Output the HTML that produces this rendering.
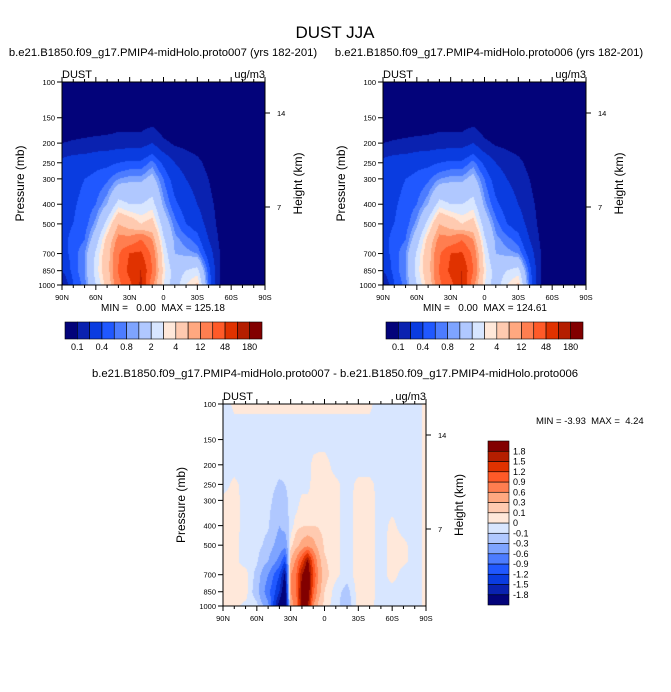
<!DOCTYPE html>
<html><head><meta charset="utf-8"><style>
body{margin:0;background:#fff;width:671px;height:692px;overflow:hidden;position:relative;font-family:"Liberation Sans",sans-serif}
canvas{position:absolute}
svg{position:absolute;left:0;top:0}
text{white-space:pre}
</style></head><body>
<canvas id="c1" width="203" height="203" style="left:62px;top:82px"></canvas>
<canvas id="c2" width="203" height="203" style="left:383px;top:82px"></canvas>
<canvas id="c3" width="203" height="202" style="left:223px;top:404px"></canvas>
<svg id="svg" width="671" height="692"></svg>
<script>
const pLevels=[100,150,200,250,300,400,500,600,700,850,1000];
const latsTop=[90,80,70,60,50,40,30,20,10,0,-10,-20,-30,-40,-50,-60,-70,-80,-90];
const dust007=[
[0.03,0.05,0.1,0.25,0.3,0.3,0.35,0.35,0.3,0.2,0.08],
[0.03,0.05,0.11,0.3,0.35,0.38,0.4,0.45,0.5,0.5,0.4],
[0.03,0.05,0.12,0.3,0.4,0.45,0.5,0.6,0.8,0.8,0.7],
[0.03,0.05,0.13,0.35,0.45,0.6,0.9,1.5,2.2,2.5,2],
[0.03,0.05,0.14,0.35,0.55,1,2.5,5,6,6,5],
[0.03,0.06,0.15,0.4,0.8,2.5,8,15,22,25,20],
[0.03,0.06,0.15,0.45,0.9,2,6,15,50,60,40],
[0.03,0.06,0.15,0.45,0.9,2,4,25,55,100,110],
[0.03,0.07,0.2,0.7,1.2,2.5,5,12,20,24,15],
[0.03,0.05,0.12,0.35,0.6,0.9,1.5,2.2,3,3.5,3],
[0.03,0.04,0.09,0.2,0.3,0.45,0.7,0.9,1,1.5,1.5],
[0.03,0.04,0.08,0.15,0.2,0.3,0.4,0.7,0.9,2,3],
[0.03,0.04,0.07,0.12,0.15,0.2,0.3,0.5,0.8,2.5,4.5],
[0.03,0.04,0.06,0.08,0.1,0.12,0.15,0.2,0.3,0.5,0.6],
[0.03,0.04,0.05,0.06,0.07,0.08,0.08,0.09,0.1,0.1,0.1],
[0.05,0.05,0.05,0.05,0.05,0.05,0.05,0.05,0.05,0.05,0.05],
[0.05,0.05,0.05,0.05,0.05,0.05,0.05,0.05,0.05,0.05,0.05],
[0.05,0.05,0.05,0.05,0.05,0.05,0.05,0.05,0.05,0.05,0.05],
[0.05,0.05,0.05,0.05,0.05,0.05,0.05,0.05,0.05,0.05,0.05]];
const dust006=[
[0.03,0.05,0.1,0.25,0.3,0.3,0.35,0.35,0.3,0.2,0.08],
[0.03,0.05,0.11,0.3,0.35,0.38,0.4,0.45,0.5,0.5,0.4],
[0.03,0.05,0.12,0.3,0.4,0.45,0.5,0.6,0.8,0.8,0.7],
[0.03,0.05,0.13,0.35,0.45,0.6,0.9,1.5,2.2,2.5,2],
[0.03,0.05,0.14,0.35,0.55,1,2.5,5,6,6,5],
[0.03,0.06,0.15,0.4,0.8,2.5,8,15,22,25,21],
[0.03,0.06,0.15,0.45,0.9,2,6,15,48,58,38],
[0.03,0.06,0.15,0.45,0.9,2,4,24,53,98,105],
[0.03,0.07,0.2,0.7,1.2,2.5,5,12,20,24,15],
[0.03,0.05,0.12,0.35,0.6,0.9,1.5,2.2,3,3.5,3],
[0.03,0.04,0.09,0.2,0.3,0.45,0.7,0.9,1,1.5,1.5],
[0.03,0.04,0.08,0.15,0.2,0.3,0.4,0.7,0.9,2,3],
[0.03,0.04,0.07,0.12,0.15,0.2,0.3,0.5,0.8,2.5,4.5],
[0.03,0.04,0.06,0.08,0.1,0.12,0.15,0.2,0.3,0.5,0.6],
[0.03,0.04,0.05,0.06,0.07,0.08,0.08,0.09,0.1,0.1,0.1],
[0.05,0.05,0.05,0.05,0.05,0.05,0.05,0.05,0.05,0.05,0.05],
[0.05,0.05,0.05,0.05,0.05,0.05,0.05,0.05,0.05,0.05,0.05],
[0.05,0.05,0.05,0.05,0.05,0.05,0.05,0.05,0.05,0.05,0.05],
[0.05,0.05,0.05,0.05,0.05,0.05,0.05,0.05,0.05,0.05,0.05]];
const latsDiff=[90,80,70,60,50,45,40,35,30,25,20,15,10,5,0,-10,-20,-30,-40,-50,-60,-70,-80,-90];
const dustDiff=[
[-0.05,-0.05,-0.05,-0.05,0.03,0.03,0.03,0.03,0.03,0.03,0.03],
[0.02,-0.05,-0.05,0.03,0.05,0.05,0.03,0.03,0.05,0.05,0.03],
[0.02,-0.05,-0.05,-0.05,-0.05,-0.05,-0.05,-0.05,0.05,0.05,-0.03],
[0.02,-0.05,-0.05,-0.05,-0.05,-0.05,-0.05,-0.08,-0.15,-0.2,-0.05],
[0.02,-0.05,-0.05,-0.05,-0.05,-0.08,-0.15,-0.3,-0.6,-0.8,-0.5],
[0.02,-0.05,-0.05,-0.08,-0.12,-0.2,-0.3,-0.5,-0.9,-1.1,-1.3],
[0.02,-0.05,-0.05,-0.12,-0.2,-0.3,-0.4,-0.7,-1.2,-1.5,-2.0],
[0.02,-0.05,-0.05,-0.1,-0.15,-0.2,-0.5,-1.2,-1.9,-2.2,-2.5],
[0.02,-0.05,-0.05,-0.05,-0.05,-0.05,0.05,0.3,0.6,0.6,0.4],
[0.02,-0.05,-0.05,-0.05,-0.05,0.05,0.2,0.7,0.9,0.9,0.8],
[0.02,-0.05,-0.05,-0.05,0.03,0.08,0.4,1.2,1.8,2.0,2.0],
[0.02,-0.05,-0.05,-0.05,0.03,0.1,0.5,1.9,2.2,2.2,1.9],
[0.02,-0.05,0.03,0.05,0.05,0.1,0.4,1.0,1.2,1.0,0.6],
[0.02,-0.05,0.05,0.05,0.05,0.08,0.2,0.4,0.5,0.4,0.2],
[0.02,-0.05,0.05,0.05,0.05,0.05,0.08,0.12,0.15,0.1,0.05],
[0.02,-0.05,-0.05,0.03,0.03,0.03,0.03,0.03,0.03,-0.05,-0.05],
[0.02,-0.05,-0.05,-0.05,-0.05,-0.05,-0.05,-0.05,-0.05,-0.15,-0.2],
[0.02,-0.05,-0.05,0.03,0.05,0.05,0.05,0.05,0.05,0.05,0.05],
[0.02,-0.05,-0.05,0.03,0.05,0.05,0.05,0.05,0.05,0.05,0.03],
[-0.05,-0.05,-0.05,-0.05,-0.05,-0.05,-0.05,-0.05,-0.05,-0.05,-0.05],
[-0.05,-0.05,-0.05,-0.05,-0.05,0.03,0.05,0.05,0.05,-0.05,-0.05],
[-0.05,-0.05,-0.05,-0.05,-0.05,-0.05,0.03,0.03,-0.05,-0.05,-0.05],
[-0.05,-0.05,-0.05,-0.05,-0.05,-0.05,-0.05,-0.05,-0.05,-0.05,-0.05],
[0.03,0.03,0.03,0.03,0.03,0.03,0.03,0.03,0.03,0.03,0.03]];
const levelsTop=[0.1,0.2,0.4,0.6,0.8,1,2,3,4,8,12,24,48,96,180];
const labelsTop=["0.1","0.4","0.8","2","4","12","48","180"];
const levelsDiff=[-1.8,-1.5,-1.2,-0.9,-0.6,-0.3,-0.1,0,0.1,0.3,0.6,0.9,1.2,1.5,1.8];
const labelsDiff=["-1.8","-1.5","-1.2","-0.9","-0.6","-0.3","-0.1","0","0.1","0.3","0.6","0.9","1.2","1.5","1.8"];
const xTickLabels=["90N","60N","30N","0","30S","60S","90S"];
const xTickLats=[90,60,30,0,-30,-60,-90];
const pTicks=[100,150,200,250,300,400,500,700,850,1000];
const heightTicks=[[14,113],[7,207]];
const palette=['#03037a','#0a22b0','#0a3ce0','#2058ff','#4c7cff','#7ea4ff','#b0c8ff','#d8e6ff','#ffe8da','#ffcab0','#ffa880','#ff7e50','#ff5a28','#e03200','#b41e00','#820000'];

function hexRgb(h){return [parseInt(h.substr(1,2),16),parseInt(h.substr(3,2),16),parseInt(h.substr(5,2),16)];}
const palRgb=palette.map(hexRgb);
function findIdx(arr,v,desc){for(let i=0;i<arr.length-1;i++){const a=arr[i],b=arr[i+1];if(desc?(v<=a&&v>=b):(v>=a&&v<=b))return [i,(v-a)/(b-a)];}return [arr.length-2,1];}
function classOf(v,levels){let c=0;for(const l of levels)if(v>=l)c++;return c;}
function render(id,lats,grid,levels,logv){
  const cv=document.getElementById(id),ctx=cv.getContext('2d'),W=cv.width,H=cv.height;
  const img=ctx.createImageData(W,H);const lp=pLevels.map(p=>Math.log10(p));
  for(let py=0;py<H;py++){const l=2+(py+0.5)/H;const [j,fj]=findIdx(lp,l,false);
    for(let px=0;px<W;px++){const lat=90-180*(px+0.5)/W;const [i,fi]=findIdx(lats,lat,true);
      const g=(a,b)=>{const v=grid[a][b];return logv?Math.log10(v):v;};
      let v=(1-fi)*((1-fj)*g(i,j)+fj*g(i,j+1))+fi*((1-fj)*g(i+1,j)+fj*g(i+1,j+1));
      if(logv)v=Math.pow(10,v);
      const c=palRgb[classOf(v,levels)];const k=(py*W+px)*4;
      img.data[k]=c[0];img.data[k+1]=c[1];img.data[k+2]=c[2];img.data[k+3]=255;}}
  ctx.putImageData(img,0,0);
}
render('c1',latsTop,dust007,levelsTop,true);
render('c2',latsTop,dust006,levelsTop,true);
render('c3',latsDiff,dustDiff,levelsDiff,false);

const svg=document.getElementById('svg');const NS='http://www.w3.org/2000/svg';
function el(tag,attrs,txt){const e=document.createElementNS(NS,tag);for(const k in attrs)e.setAttribute(k,attrs[k]);if(txt!==undefined)e.textContent=txt;svg.appendChild(e);return e;}
function txt(x,y,s,size,anchor,name,extra){const e=el('text',Object.assign({x:x,y:y,'font-size':size,'text-anchor':anchor||'start','font-family':'Liberation Sans, sans-serif',fill:'#000'},extra||{}),s);

return e;}
function axes(x0,y0,w,h,pfx){
  const xs=lat=>x0+(90-lat)/180*w; const ys=p=>y0+(Math.log10(p)-2)*h;
  const fr=el('rect',{x:x0,y:y0,width:w,height:h,fill:'none',stroke:'#000','stroke-width':1});
  
  
  for(let lat=90;lat>=-90;lat-=10){const x=xs(lat);const major=lat%30===0;const L=major?5:3;
    el('line',{x1:x,y1:y0+h,x2:x,y2:y0+h+L,stroke:'#000'});el('line',{x1:x,y1:y0,x2:x,y2:y0-L,stroke:'#000'});}
  xTickLats.forEach((lat,i)=>txt(xs(lat),y0+h+15,xTickLabels[i],7.5,'middle',pfx+'-x-tick-label'));
  pTicks.forEach(p=>{const y=ys(p);el('line',{x1:x0,y1:y,x2:x0-5,y2:y,stroke:'#000'});txt(x0-7,y+3,String(p),7.5,'end',pfx+'-y-tick-label');});
  heightTicks.forEach(([hk,y])=>{const yy=y0+(y-82);el('line',{x1:x0+w,y1:yy,x2:x0+w+5,y2:yy,stroke:'#000'});txt(x0+w+12,yy+3,String(hk),7.5,'start',pfx+'-height-tick-label');});
  txt(x0,y0-4,'DUST',11,'start',pfx+'-left-label');
  txt(x0+w,y0-4,'ug/m3',11,'end',pfx+'-unit-label');
  txt(0,0,'Pressure (mb)',12,'middle',pfx+'-y-axis-title',{transform:`translate(${x0-38},${y0+h/2}) rotate(-90)`});
  txt(0,0,'Height (km)',12,'middle',pfx+'-height-axis-title',{transform:`translate(${x0+w+37},${y0+h/2}) rotate(-90)`});
}
axes(62,82,203,203,'left-panel');
axes(383,82,203,203,'right-panel');
axes(223,404,203,202,'diff-panel');

function hbar(x0,y0,w,h,pfx){const bw=w/16;
  palette.forEach((c,i)=>{const r=el('rect',{x:x0+i*bw,y:y0,width:bw,height:h,fill:c,stroke:'#000','stroke-width':0.6});
  
  });
  labelsTop.forEach((s,i)=>txt(x0+(2*i+1)*bw,y0+h+11,s,9,'middle',pfx+'-colorbar-label'));}
hbar(65,322,197,17,'left');
hbar(386,322,197,17,'right');
(function(){const x0=488,y0=441,w=21,h=164,bh=h/16;
  palette.forEach((c,i)=>{const r=el('rect',{x:x0,y:y0+(15-i)*bh,width:w,height:bh,fill:c,stroke:'#000','stroke-width':0.6});
  
  });
  labelsDiff.forEach((s,i)=>txt(x0+w+4,y0+(15-i)*bh+3,s,9,'start','diff-colorbar-label'));})();

txt(335,38,'DUST JJA',17,'middle','main-title');
txt(163,56,'b.e21.B1850.f09_g17.PMIP4-midHolo.proto007 (yrs 182-201)',11.3,'middle','left-panel-subtitle');
txt(489,56,'b.e21.B1850.f09_g17.PMIP4-midHolo.proto006 (yrs 182-201)',11.3,'middle','right-panel-subtitle');
txt(163,311,'MIN =   0.00  MAX = 125.18',10,'middle','left-panel-min-max');
txt(485,311,'MIN =   0.00  MAX = 124.61',10,'middle','right-panel-min-max');
txt(335,377,'b.e21.B1850.f09_g17.PMIP4-midHolo.proto007 - b.e21.B1850.f09_g17.PMIP4-midHolo.proto006',11.3,'middle','diff-panel-title');
txt(536,424,'MIN = -3.93  MAX =  4.24',9.5,'start','diff-panel-min-max');
</script>
</body></html>
